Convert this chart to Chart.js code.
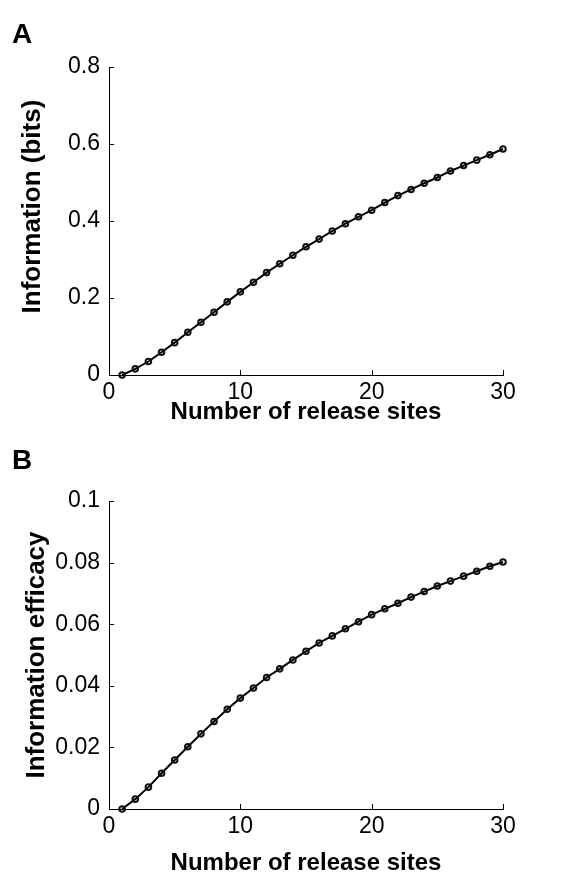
<!DOCTYPE html>
<html>
<head>
<meta charset="utf-8">
<script src="https://cdn.jsdelivr.net/npm/chart.js@4.4.1/dist/chart.umd.min.js"></script>
<style>
body { margin: 0; background: #fff; }
.panel { position: absolute; left: 0; width: 581px; height: 440px; }
.letter { position: absolute; left: 12px; font: bold 28px Arial, "Liberation Sans", sans-serif; line-height: 28px; color: #000; }
</style>
</head>
<body>
<div class="panel" style="top:0"><canvas id="chartA" width="581" height="440"></canvas></div>
<div class="panel" style="top:440px"><canvas id="chartB" width="581" height="440"></canvas></div>
<div class="letter" style="top:20px">A</div>
<div class="letter" style="top:446px">B</div>
<script>
// data
var sites = [1, 2, 3, 4, 5, 6, 7, 8, 9, 10, 11, 12, 13, 14, 15, 16, 17, 18, 19, 20, 21, 22, 23, 24, 25, 26, 27, 28, 29, 30];
var infoBits = [0, 0.016, 0.035, 0.059, 0.084, 0.111, 0.137, 0.163, 0.190, 0.216, 0.241, 0.266, 0.289, 0.311, 0.333,
    0.353, 0.374, 0.393, 0.411, 0.428, 0.448, 0.466, 0.482, 0.498, 0.513, 0.530, 0.544, 0.558, 0.572, 0.587];
var infoEfficacy = [0, 0.0032, 0.0071, 0.0116, 0.0159, 0.0202, 0.0244, 0.0284, 0.0324, 0.0360, 0.0393, 0.0427, 0.0455, 0.0484, 0.0512,
    0.0539, 0.0562, 0.0585, 0.0608, 0.0631, 0.0650, 0.0668, 0.0688, 0.0706, 0.0724, 0.0740, 0.0756, 0.0772, 0.0788, 0.0802];
var xTicks = [0, 10, 20, 30];
var yTicksA = [0, 0.2, 0.4, 0.6, 0.8];
var yTicksB = [0, 0.02, 0.04, 0.06, 0.08, 0.1];

var fontFamily = 'Arial, "Liberation Sans", sans-serif';

// matlab style ticks pointing into the plot
var inwardTicks = {
    id: 'inwardTicks',
    afterDraw: function (chart) {
        var ctx = chart.ctx;
        var xs = chart.scales.x, ys = chart.scales.y;
        ctx.save();
        ctx.strokeStyle = '#000';
        ctx.lineWidth = 1;
        ctx.beginPath();
        xs.ticks.forEach(function (t) {
            var px = Math.round(xs.getPixelForValue(t.value)) + 0.5;
            ctx.moveTo(px, ys.bottom);
            ctx.lineTo(px, ys.bottom - 5);
        });
        ys.ticks.forEach(function (t) {
            var py = Math.round(ys.getPixelForValue(t.value)) + 0.5;
            ctx.moveTo(xs.left, py);
            ctx.lineTo(xs.left + 5, py);
        });
        ctx.stroke();
        ctx.restore();
    }
};

function makeChart(id, values, yTicks, yTitle, opts) {
    var points = sites.map(function (s, i) { return { x: s, y: values[i] }; });
    return new Chart(document.getElementById(id), {
        type: 'line',
        data: {
            datasets: [{
                data: points,
                borderColor: '#000',
                borderWidth: 2,
                pointRadius: 2.8,
                pointBorderWidth: 2,
                pointBorderColor: '#111',
                pointBackgroundColor: 'rgba(0,0,0,0)',
                tension: 0,
                clip: false
            }]
        },
        options: {
            responsive: false,
            animation: false,
            layout: { padding: { top: opts.top, right: 78, left: 0, bottom: 0 } },
            plugins: { legend: { display: false }, tooltip: { enabled: false } },
            scales: {
                x: {
                    type: 'linear',
                    min: 0,
                    max: 30,
                    afterBuildTicks: function (scale) {
                        scale.ticks = xTicks.map(function (v) { return { value: v }; });
                    },
                    afterFit: function (scale) { scale.height = opts.xHeight; },
                    grid: { display: false, drawTicks: false },
                    border: { display: true, color: '#000', width: 1 },
                    ticks: {
                        color: '#000', padding: opts.xTickPad, maxRotation: 0,
                        font: { family: fontFamily, size: 23 },
                        callback: function (v) { return String(v); }
                    },
                    title: {
                        display: true,
                        text: 'Number of release sites',
                        color: '#000',
                        padding: { top: 0, bottom: opts.xTitlePad },
                        font: { family: fontFamily, size: 24, weight: 'bold' }
                    }
                },
                y: {
                    min: 0,
                    max: yTicks[yTicks.length - 1],
                    afterBuildTicks: function (scale) {
                        scale.ticks = yTicks.map(function (v) { return { value: v }; });
                    },
                    afterFit: function (scale) { scale.width = 109; },
                    grid: { display: false, drawTicks: false },
                    border: { display: true, color: '#000', width: 1 },
                    ticks: {
                        color: '#000', padding: 9,
                        font: { family: fontFamily, size: 23 },
                        callback: function (v) { return String(v); }
                    },
                    title: {
                        display: true,
                        text: yTitle,
                        color: '#000',
                        padding: { top: opts.yTitlePad, bottom: 0 },
                        font: { family: fontFamily, size: 26, weight: 'bold' }
                    }
                }
            }
        },
        plugins: [inwardTicks]
    });
}

// leading spaces nudge the rotated title upward, as in the figure
makeChart('chartA', infoBits, yTicksA, '    Information (bits)', { top: 67, xHeight: 65, xTickPad: 4, xTitlePad: 13, yTitlePad: 17 });
makeChart('chartB', infoEfficacy, yTicksB, 'Information efficacy', { top: 61, xHeight: 71, xTickPad: 4, xTitlePad: 2, yTitlePad: 21 });
</script>
</body>
</html>
